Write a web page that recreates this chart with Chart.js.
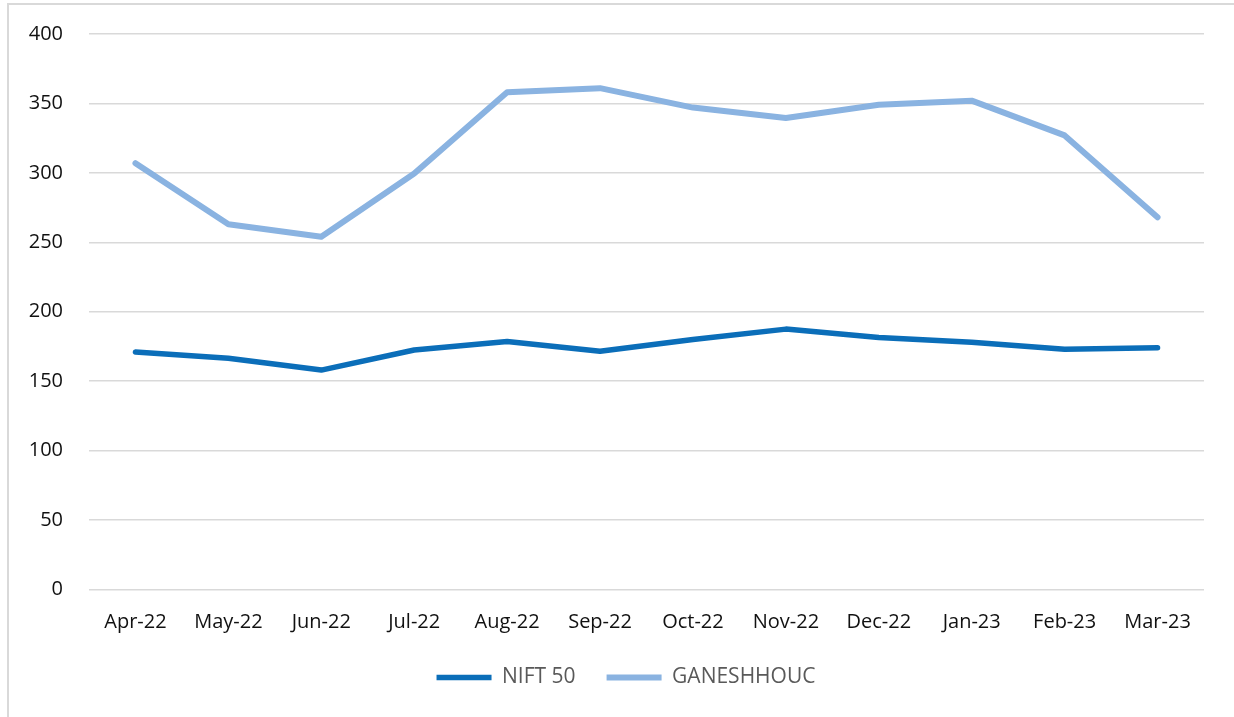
<!DOCTYPE html>
<html>
<head>
<meta charset="utf-8">
<script src="https://cdn.jsdelivr.net/npm/chart.js@4.4.1/dist/chart.umd.min.js"></script>
<style>
  html, body { margin: 0; padding: 0; background: #ffffff; }
  #wrap { position: relative; width: 1234px; height: 717px; overflow: hidden; }
  #frame { position: absolute; left: 7px; top: 3px; width: 1300px; height: 800px;
           border: 2px solid #d9d9d9; box-sizing: border-box; pointer-events: none; }
  canvas { position: absolute; left: 0; top: 0; }
</style>
</head>
<body>
<div id="wrap">
  <canvas id="chart" width="1234" height="717"></canvas>
  <div id="frame"></div>
</div>
<script>
// Monthly values, Apr-22 to Mar-23
const months = ['Apr-22', 'May-22', 'Jun-22', 'Jul-22', 'Aug-22', 'Sep-22',
                'Oct-22', 'Nov-22', 'Dec-22', 'Jan-23', 'Feb-23', 'Mar-23'];
const nift50 = [171, 166.5, 158, 172.5, 178.5, 171.5, 180, 187.5, 181.5, 178, 173, 174];
const ganeshhouc = [307, 263, 254, 299.5, 358, 361, 347, 339.5, 349, 352, 327, 268];
const yMin = 0;
const yMax = 400;
const yStep = 50;

const FONT = "'Open Sans', 'Noto Sans', sans-serif";

new Chart(document.getElementById('chart'), {
  type: 'line',
  data: {
    labels: months,
    datasets: [
      {
        label: 'NIFT 50',
        data: nift50,
        borderColor: '#0B6EB9',
        backgroundColor: '#0B6EB9',
        borderWidth: 5.5,
        pointRadius: 0,
        pointHoverRadius: 0,
        tension: 0,
        borderCapStyle: 'round',
        borderJoinStyle: 'round',
        pointStyle: 'line'
      },
      {
        label: 'GANESHHOUC',
        data: ganeshhouc,
        borderColor: '#8AB3E1',
        backgroundColor: '#8AB3E1',
        borderWidth: 6,
        pointRadius: 0,
        pointHoverRadius: 0,
        tension: 0,
        borderCapStyle: 'round',
        borderJoinStyle: 'round',
        pointStyle: 'line'
      }
    ]
  },
  options: {
    responsive: false,
    animation: false,
    events: [],
    layout: { padding: { top: 34, left: 20, right: 2, bottom: 19 } },
    plugins: {
      title: { display: false },
      tooltip: { enabled: false },
      legend: {
        display: true,
        position: 'bottom',
        labels: {
          usePointStyle: true,
          pointStyleWidth: 55,
          padding: 31,
          color: '#595959',
          font: { family: FONT, size: 21 }
        }
      }
    },
    scales: {
      x: {
        offset: true,
        grid: { display: false, drawTicks: false },
        border: { display: false },
        ticks: {
          color: '#111111',
          padding: 21,
          maxRotation: 0,
          autoSkip: false,
          font: { family: FONT, size: 20 }
        },
        afterFit: (scale) => { scale.height = 46.5; }
      },
      y: {
        min: yMin,
        max: yMax,
        grid: { color: '#d9d9d9', lineWidth: 1.5, drawTicks: false },
        border: { display: false },
        ticks: {
          stepSize: yStep,
          color: '#111111',
          padding: 26,
          font: { family: FONT, size: 20 }
        },
        afterFit: (scale) => {
          scale.width = 69;
          scale.paddingTop = 0;
          scale.paddingBottom = 0;
        }
      },
      // empty right-hand margin beside the plot
      yRight: {
        position: 'right',
        display: true,
        min: yMin,
        max: yMax,
        grid: { display: false, drawTicks: false },
        border: { display: false },
        ticks: { display: false },
        afterFit: (scale) => {
          scale.width = 28;
          scale.paddingTop = 0;
          scale.paddingBottom = 0;
        }
      }
    }
  }
});
</script>
</body>
</html>
